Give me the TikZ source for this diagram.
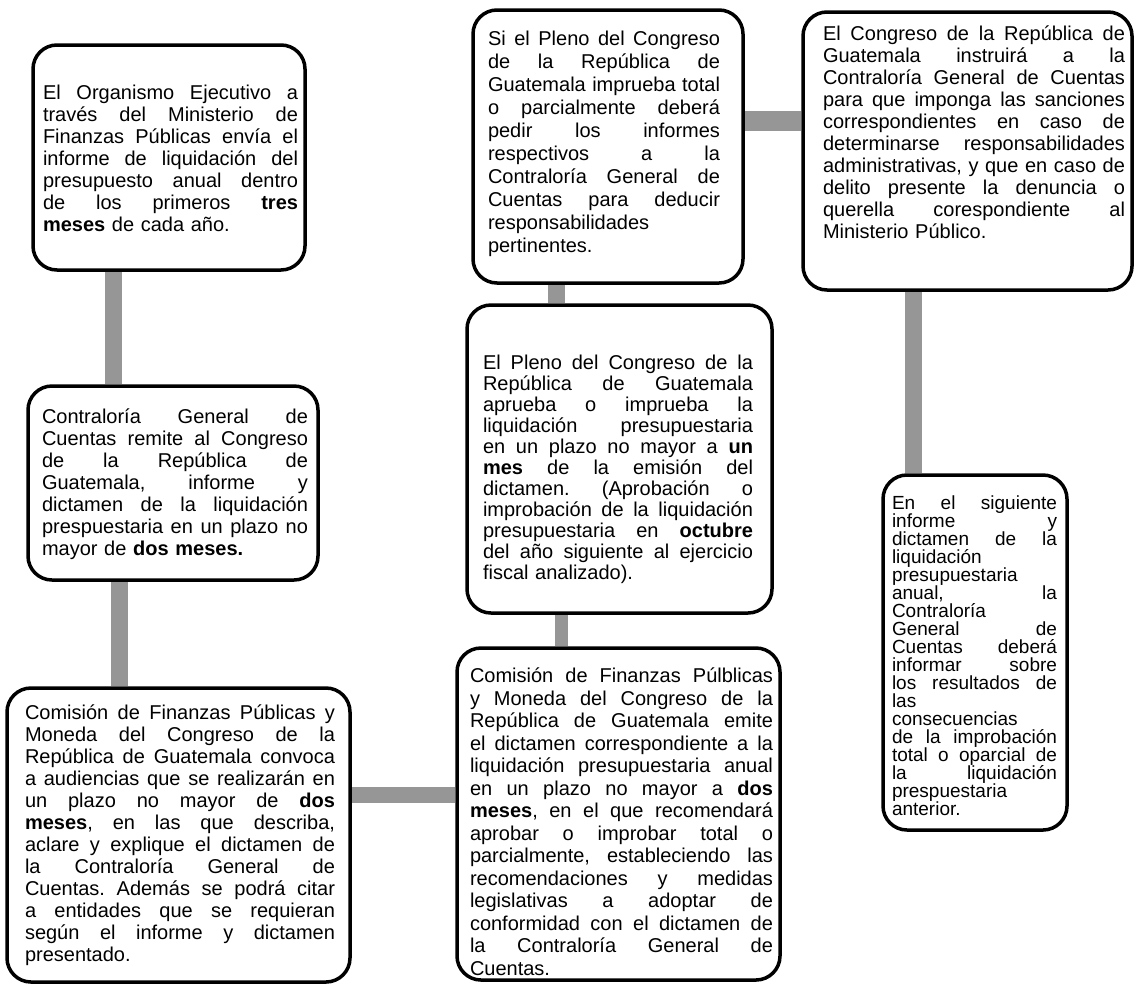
\documentclass[tikz,border=0pt]{standalone}
\usepackage{fontspec}
\setmainfont{Liberation Sans}
\usetikzlibrary{backgrounds}
\definecolor{bargray}{RGB}{150,150,150}
\newlength\jw
\newcommand\jl[1]{\leavevmode\hbox to\jw{\frenchspacing\spaceskip=0.278em plus 1fil\relax #1}\\}
\begin{document}
\begin{tikzpicture}[x=1pt,y=-1pt,
  box/.style={draw, line width=3.5pt, rounded corners=24pt, fill=white, inner sep=0pt},
  txt/.style={text width=#1, align=left, inner sep=0pt, font=\fontsize{20}{22}\selectfont,
    execute at begin node={\setlength{\jw}{#1}}},
  conn/.style={draw=bargray, line width=17pt}]
\useasboundingbox (0,0) rectangle (1134,986);

% boxes
\node[box, minimum width=272pt, minimum height=225pt] (b1) at (169,157.5) {};
\node[box, minimum width=290pt, minimum height=194pt] (b2) at (173,483) {};
\node[box, minimum width=343pt, minimum height=294pt] (b3) at (178.5,835) {};
\node[box, minimum width=270pt, minimum height=273pt] (b4) at (608,146.5) {};
\node[box, minimum width=305pt, minimum height=308pt] (b5) at (619.5,459) {};
\node[box, minimum width=323pt, minimum height=332pt] (b6) at (618.5,814) {};
\node[box, minimum width=329pt, minimum height=278pt] (b7) at (967.5,151) {};
\node[box, minimum width=184pt, minimum height=355pt] (b8) at (975,652.5) {};

% texts
\node[txt=255pt] (t1) at (170.5,158.5) {%
\jl{El Organismo Ejecutivo a}
\jl{través del Ministerio de}
\jl{Finanzas Públicas envía el}
\jl{informe de liquidación del}
\jl{presupuesto anual dentro}
\jl{de los primeros \textbf{tres}}
\textbf{meses} de cada año.};

\node[txt=266pt] (t2) at (175,484) {%
\jl{Contraloría General de}
\jl{Cuentas remite al Congreso}
\jl{de la República de}
\jl{Guatemala, informe y}
\jl{dictamen de la liquidación}
\jl{prespuestaria en un plazo no}
mayor de \textbf{dos meses.}};

\node[txt=310pt] (t3) at (180,835) {%
\jl{Comisión de Finanzas Públicas y}
\jl{Moneda del Congreso de la}
\jl{República de Guatemala convoca}
\jl{a audiencias que se realizarán en}
\jl{un plazo no mayor de \textbf{dos}}
\jl{\textbf{meses}, en las que describa,}
\jl{aclare y explique el dictamen de}
\jl{la Contraloría General de}
\jl{Cuentas. Además se podrá citar}
\jl{a entidades que se requieran}
\jl{según el informe y dictamen}
presentado.};

\node[txt=232pt, font=\fontsize{20}{23}\selectfont] (t4) at (604,143.5) {%
\jl{Si el Pleno del Congreso}
\jl{de la República de}
\jl{Guatemala imprueba total}
\jl{o parcialmente deberá}
\jl{pedir los informes}
\jl{respectivos a la}
\jl{Contraloría General de}
\jl{Cuentas para deducir}
responsabilidades\\
pertinentes.};

\node[txt=270pt, font=\fontsize{20}{21}\selectfont] (t5) at (618,469) {%
\jl{El Pleno del Congreso de la}
\jl{República de Guatemala}
\jl{aprueba o imprueba la}
\jl{liquidación presupuestaria}
\jl{en un plazo no mayor a \textbf{un}}
\jl{\textbf{mes} de la emisión del}
\jl{dictamen. (Aprobación o}
\jl{improbación de la liquidación}
\jl{presupuestaria en \textbf{octubre}}
\jl{del año siguiente al ejercicio}
fiscal analizado).};

\node[txt=303pt, font=\fontsize{20}{22.5}\selectfont] (t6) at (621.5,821.5) {%
\jl{Comisión de Finanzas Púlblicas}
\jl{y Moneda del Congreso de la}
\jl{República de Guatemala emite}
\jl{el dictamen correspondiente a la}
\jl{liquidación presupuestaria anual}
\jl{en un plazo no mayor a \textbf{dos}}
\jl{\textbf{meses}, en el que recomendará}
\jl{aprobar o improbar total o}
\jl{parcialmente, estableciendo las}
\jl{recomendaciones y medidas}
\jl{legislativas a adoptar de}
\jl{conformidad con el dictamen de}
\jl{la Contraloría General de}
Cuentas.};

\node[txt=302pt] (t7) at (974,132) {%
\jl{El Congreso de la República de}
\jl{Guatemala instruirá a la}
\jl{Contraloría General de Cuentas}
\jl{para que imponga las sanciones}
\jl{correspondientes en caso de}
\jl{determinarse responsabilidades}
\jl{administrativas, y que en caso de}
\jl{delito presente la denuncia o}
\jl{querella corespondiente al}
Ministerio Público.};

\node[txt=165pt, font=\fontsize{19}{18}\selectfont] (t8) at (974.5,656) {%
\jl{En el siguiente}
\jl{informe y}
\jl{dictamen de la}
liquidación\\
presupuestaria\\
\jl{anual, la}
Contraloría\\
\jl{General de}
\jl{Cuentas deberá}
\jl{informar sobre}
\jl{los resultados de}
las\\
consecuencias\\
\jl{de la improbación}
\jl{total o oparcial de}
\jl{la liquidación}
prespuestaria\\
anterior.};

% connectors
\begin{scope}[on background layer]
\coordinate (x1) at (113.5,0);
\coordinate (x2) at (119.5,0);
\coordinate (y3) at (0,795);
\coordinate (x4) at (561.5,0);
\coordinate (x5) at (556.5,0);
\coordinate (y6) at (0,121);
\coordinate (x7) at (913.5,0);
\draw[conn] (b1.south -| x1) -- (b2.north -| x1);
\draw[conn] (b2.south -| x2) -- (b3.north -| x2);
\draw[conn, line width=16pt] (b3.east |- y3) -- (b6.west |- y3);
\draw[conn, line width=13pt] (b6.north -| x4) -- (b5.south -| x4);
\draw[conn] (b5.north -| x5) -- (b4.south -| x5);
\draw[conn, line width=20pt] (b4.east |- y6) -- (b7.west |- y6);
\draw[conn] (b7.south -| x7) -- (b8.north -| x7);
\end{scope}
\end{tikzpicture}
\end{document}
